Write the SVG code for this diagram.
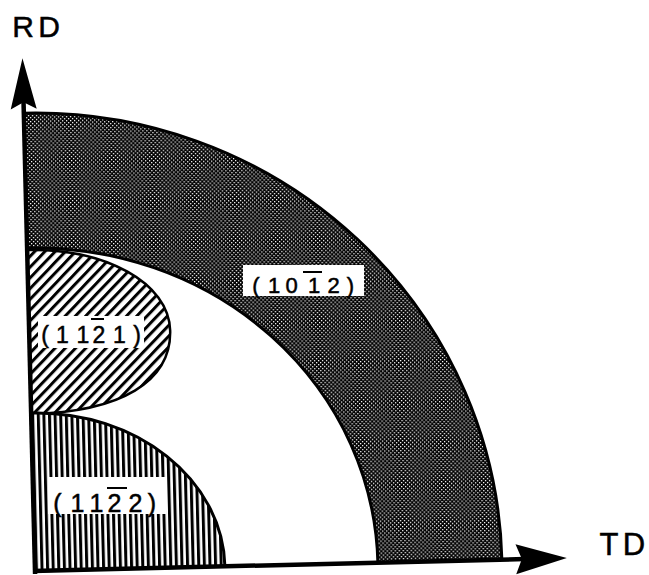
<svg xmlns="http://www.w3.org/2000/svg" width="649" height="575" viewBox="0 0 649 575">
<defs>
  <pattern id="stipple" patternUnits="userSpaceOnUse" width="4" height="4">
    <rect width="4" height="4" fill="#000"/>
    <rect x="0" y="0" width="1.3" height="1.3" fill="#fff"/>
    <rect x="2" y="2" width="1.3" height="1.3" fill="#fff"/>
  </pattern>
  <pattern id="diag" patternUnits="userSpaceOnUse" width="7.4" height="7.4" patternTransform="rotate(-45)">
    <rect width="7.4" height="7.4" fill="#fff"/>
    <rect width="7.4" height="3" fill="#000"/>
  </pattern>
  <pattern id="vert" patternUnits="userSpaceOnUse" width="5.6" height="10">
    <rect width="5.6" height="10" fill="#fff"/>
    <rect width="3" height="10" fill="#000"/>
  </pattern>
</defs>
<style>
  .lbl{font-family:"Liberation Sans",Arial,sans-serif;fill:#000;stroke:#000;stroke-width:0.5;text-anchor:middle}
  .edge{fill:none;stroke:#000;stroke-width:3}
  .outline{stroke:#000}
  .bar{stroke:#000;stroke-width:2}
  .axis{stroke:#000;stroke-width:4.5;fill:none}
  .head{fill:#000}
  .bg{fill:#fff}
</style>
<rect width="649" height="575" fill="#fff"/>
<g transform="translate(35,571) rotate(-1.4)">
  <g id="band-1012">
    <path d="M0,-458 A467,458 0 0 1 467,0 L343,0 A343,323 0 0 0 0,-323 Z" fill="url(#stipple)"/>
    <path class="edge" d="M0,-458 A467,458 0 0 1 467,0"/>
    <path class="edge" d="M343,0 A343,323 0 0 0 0,-323"/>
  </g>
  <g id="region-1121">
    <path class="outline" d="M0,-321 C78,-321 141,-285 141,-237 C141,-186 90,-157 0,-157 Z" fill="url(#diag)" stroke-width="2.5"/>
  </g>
  <g id="region-1122">
    <path class="outline" d="M0,-158 C105,-158 190,-87 190,0 L0,0 Z" fill="url(#vert)" stroke-width="3"/>
  </g>
  <g id="axes">
    <line class="axis" x1="0" y1="3" x2="0" y2="-470"/>
    <line class="axis" x1="-2" y1="0" x2="490" y2="0"/>
    <path class="head" d="M0,-513 L13,-462 L0,-469 L-13,-462 Z"/>
    <path class="head" d="M532,0 L481,-15 L487,0 L481,15 Z"/>
  </g>
</g>
<g id="label-1012">
  <rect class="bg" x="243" y="265" width="121" height="31"/>
  <text class="lbl" style="font-size:22px" x="256 274 291.5 314 333.5 350.5" y="293">(1012)</text>
  <line class="bar" x1="303" y1="272" x2="322" y2="272"/>
</g>
<g id="label-1121">
  <rect class="bg" x="38" y="316" width="106" height="32"/>
  <text class="lbl" style="font-size:23px" x="45 62.5 83 99 119.5 137" y="343">(1121)</text>
  <line class="bar" x1="91" y1="319" x2="104" y2="319"/>
</g>
<g id="label-1122">
  <rect class="bg" x="48" y="477" width="118" height="37"/>
  <text class="lbl" style="font-size:25px" x="57.5 77.5 96.5 114.5 135.5 152" y="512">(1122)</text>
  <line class="bar" x1="107" y1="488" x2="127" y2="488"/>
</g>
<g id="axis-labels">
  <text class="lbl" style="font-size:30px" x="23 49" y="37">RD</text>
  <text class="lbl" style="font-size:31px" x="609 634" y="555">TD</text>
</g>
</svg>
